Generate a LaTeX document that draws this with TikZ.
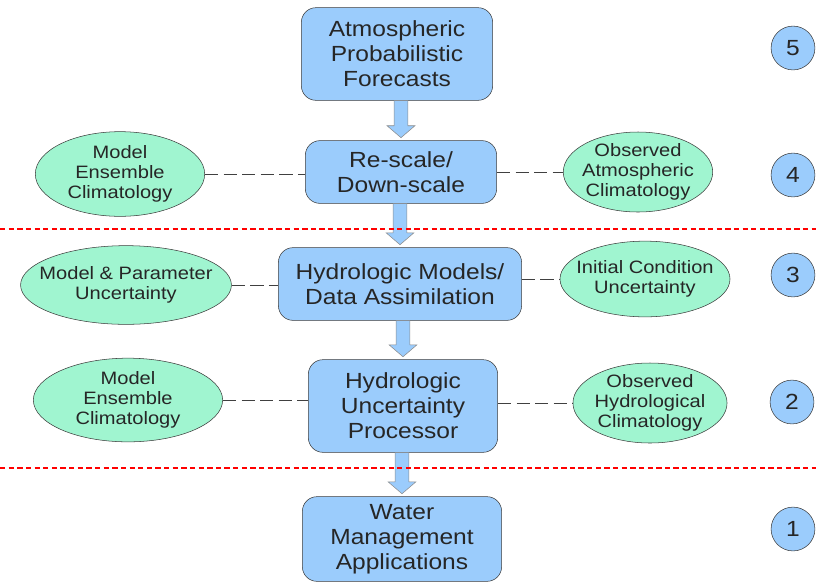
\documentclass[tikz,border=0pt]{standalone}
\usepackage{fontspec}
\setmainfont[FakeStretch=1.12]{Liberation Sans}
\usepackage{tikz}
\usetikzlibrary{shapes.geometric, calc}

\definecolor{boxblue}{RGB}{155,204,252}
\definecolor{mint}{RGB}{160,245,208}
\definecolor{rimgray}{RGB}{60,60,60}

\begin{document}
\begin{tikzpicture}[x=0.02646cm, y=-0.02646cm,
    stage/.style={rectangle, rounded corners=11pt, draw=rimgray, fill=boxblue, align=center,
      inner sep=0pt, text=black!85, font=\fontsize{16.5}{18.8}\selectfont},
    source/.style={ellipse, draw=rimgray, fill=mint, align=center, inner ysep=0pt, inner xsep=-9pt,
      text=black!85, font=\fontsize{13.5}{15}\selectfont},
    level/.style={circle, draw=rimgray, fill=boxblue, minimum size=33pt, inner sep=0pt,
      text=black!85, font=\fontsize{16.5}{18.8}\selectfont},
    link/.style={draw=black!75, dash pattern=on 10pt off 4pt},
    divide/.style={draw=red, line width=2.2pt, dash pattern=on 4pt off 2.5pt},
    fatarrow/.style={draw=black!45, fill=boxblue, to path={
      let \p1=(\tikztostart), \p2=(\tikztotarget) in
      (\x2-5.25pt,\y1) -- (\x2+5.25pt,\y1) -- (\x2+5.25pt,\y2+11pt) -- (\x2+10.5pt,\y2+11pt)
      -- (\x2,\y2+2pt) -- (\x2-10.5pt,\y2+11pt) -- (\x2-5.25pt,\y2+11pt) -- cycle}}]
  \useasboundingbox (0,0) rectangle (816,583);

  % main chain
  \node[stage, minimum width=144pt, minimum height=69.75pt] (atm) at (397,54) {Atmospheric\\Probabilistic\\Forecasts};
  \node[stage, minimum width=144pt, minimum height=47.25pt] (rescale) at (401,172) {Re-scale/\\Down-scale};
  \node[stage, minimum width=183pt, minimum height=54.75pt] (hydmod) at (400,284) {Hydrologic Models/\\Data Assimilation};
  \node[stage, minimum width=142.5pt, minimum height=69.75pt] (hup) at (403,406) {Hydrologic\\Uncertainty\\Processor};
  \node[stage, minimum width=150pt, minimum height=63.75pt] (water) at (402,539) {Water\\Management\\Applications};

  \draw[fatarrow] (atm.south) to (rescale.north);
  \draw[fatarrow] (rescale.south) to (hydmod.north);
  \draw[fatarrow] (hydmod.south) to (hup.north);
  \draw[fatarrow] (hup.south) to (water.north);

  % uncertainty sources
  \node[source, minimum width=127.5pt, minimum height=63.75pt] (modclimA) at (120,174) {Model\\Ensemble\\Climatology};
  \node[source, minimum width=112.5pt, minimum height=60pt] (obsatm) at (638,172) {Observed\\Atmospheric\\Climatology};
  \node[source, minimum width=156pt, minimum height=59.25pt] (modpar) at (126,285) {Model \& Parameter\\Uncertainty};
  \node[source, minimum width=128pt, minimum height=57pt] (initcond) at (645,279) {Initial Condition\\Uncertainty};
  \node[source, minimum width=142.5pt, minimum height=63pt] (modclimB) at (128,400) {Model\\Ensemble\\Climatology};
  \node[source, minimum width=116pt, minimum height=59pt] (obshyd) at (650,403) {Observed\\Hydrological\\Climatology};

  \draw[link] (modclimA.east) -- (modclimA.east -| rescale.west);
  \draw[link] (rescale.east |- obsatm.west) -- (obsatm.west);
  \draw[link] (modpar.east) -- (modpar.east -| hydmod.west);
  \draw[link] (hydmod.east |- initcond.west) -- (initcond.west);
  \draw[link] (modclimB.east) -- (modclimB.east -| hup.west);
  \draw[link] (hup.east |- obshyd.west) -- (obshyd.west);

  % levels
  \node[level] (lv5) at (793,48) {5};
  \node[level] (lv4) at (793,175) {4};
  \node[level] (lv3) at (793,275) {3};
  \node[level] (lv2) at (792,402) {2};
  \node[level] (lv1) at (793,529) {1};

  % dividers
  \coordinate (cutA0) at (0,229);
  \coordinate (cutA1) at (816,229);
  \coordinate (cutB0) at (0,468);
  \coordinate (cutB1) at (816,468);
  \draw[divide] (cutA0) -- (cutA1);
  \draw[divide] (cutB0) -- (cutB1);
\end{tikzpicture}
\end{document}
